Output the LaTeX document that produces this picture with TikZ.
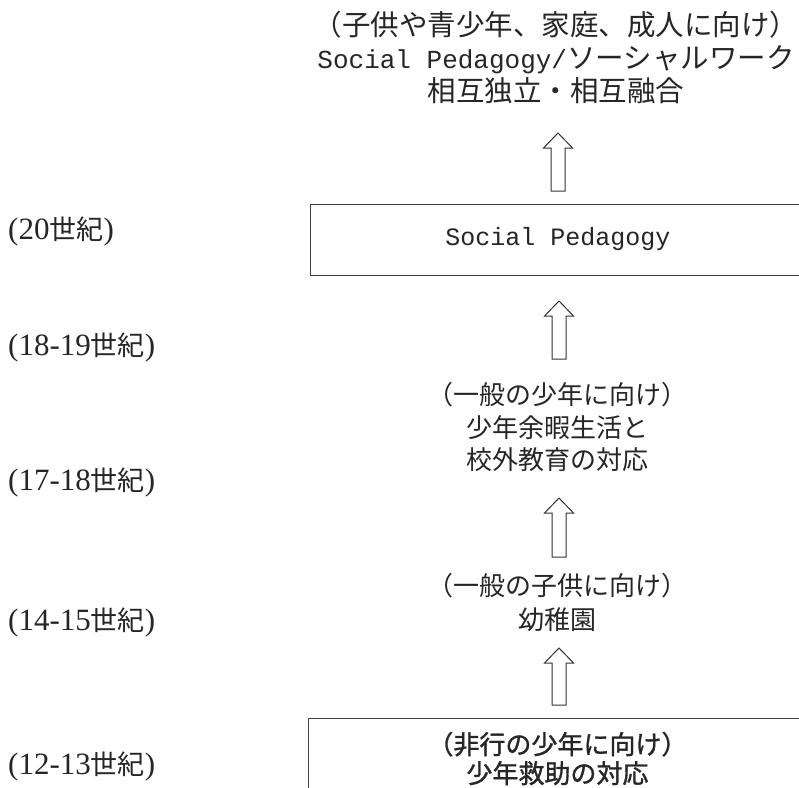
\documentclass[tikz,border=0pt]{standalone}
\usepackage{fontspec}
\setmainfont{Liberation Serif}
\newfontfamily\jp{Noto Sans CJK JP}
\newfontfamily\jpb[FakeBold=1.2]{Noto Sans CJK JP}
\newfontfamily\mono{Liberation Mono}
\usetikzlibrary{calc}
\newcommand\cent[1]{{\fontsize{31}{31}\selectfont(#1}{\jp\fontsize{27}{27}\selectfont 世紀}{\fontsize{31}{31}\selectfont)}}
\newcommand\blockarr[2]{\draw[barrow] let \p1=(#1), \p2=(#2) in
  (\x1-7pt,\y1) -- (\x1-7pt,\y2-15pt) -- (\x1-14.5pt,\y2-15pt) -- (\x2,\y2)
  -- (\x1+14.5pt,\y2-15pt) -- (\x1+7pt,\y2-15pt) -- (\x1+7pt,\y1) -- cycle;}
\tikzset{
  txt/.style={text=black!85, inner sep=0pt, align=center},
  lbl/.style={text=black!85, inner sep=0pt, anchor=west},
  boxst/.style={draw=black!75, line width=0.9pt, fill=white, inner sep=0pt, align=center, text=black!85},
  barrow/.style={draw=black!80, line width=1pt, fill=white, line join=miter}
}
\begin{document}
\begin{tikzpicture}[x=1pt,y=-1pt]
\useasboundingbox (0,0) rectangle (799,787);
\clip (0,0) rectangle (799,787);
\fill[white] (0,0) rectangle (799,787);

% top text
\node[txt, font={\jp\fontsize{28.5}{33}\selectfont}] (top) at (556,57)
  {（子供や青少年、家庭、成人に向け）\\
   {\mono\fontsize{26}{33}\selectfont Social Pedagogy/}ソーシャルワーク\\
   相互独立・相互融合};

% Social Pedagogy box
\node[boxst, minimum width=496, minimum height=71, font={\mono\fontsize{25}{30}\selectfont}] (sp) at (558,239.5) {Social Pedagogy};

% middle text
\node[txt, font={\jp\fontsize{26}{32.5}\selectfont}] (mid) at (557,427)
  {（一般の少年に向け）\\少年余暇生活と\\校外教育の対応};

% lower text
\node[txt, font={\jp\fontsize{26}{34}\selectfont}] (low) at (557,602)
  {（一般の子供に向け）\\幼稚園};

% bottom box (cut off)
\node[boxst, anchor=north west, minimum width=498, minimum height=80, font={\jpb\fontsize{26}{29}\selectfont}] (bot) at (308,718)
  {（非行の少年に向け）\\少年救助の対応};

% century labels
\node[lbl] (c20) at (8,231) {\cent{20}};
\node[lbl] (c18) at (8,347) {\cent{18-19}};
\node[lbl] (c17) at (8,482) {\cent{17-18}};
\node[lbl] (c14) at (8,622) {\cent{14-15}};
\node[lbl] (c12) at (8,766) {\cent{12-13}};

% arrows
\coordinate (a1b) at (558,191); \coordinate (a1t) at (558,133);
\coordinate (a2b) at (559,359); \coordinate (a2t) at (559,301);
\coordinate (a3b) at (559,557); \coordinate (a3t) at (559,498);
\coordinate (a4b) at (559,705); \coordinate (a4t) at (559,648);
\blockarr{a1b}{a1t}
\blockarr{a2b}{a2t}
\blockarr{a3b}{a3t}
\blockarr{a4b}{a4t}
\end{tikzpicture}
\end{document}
